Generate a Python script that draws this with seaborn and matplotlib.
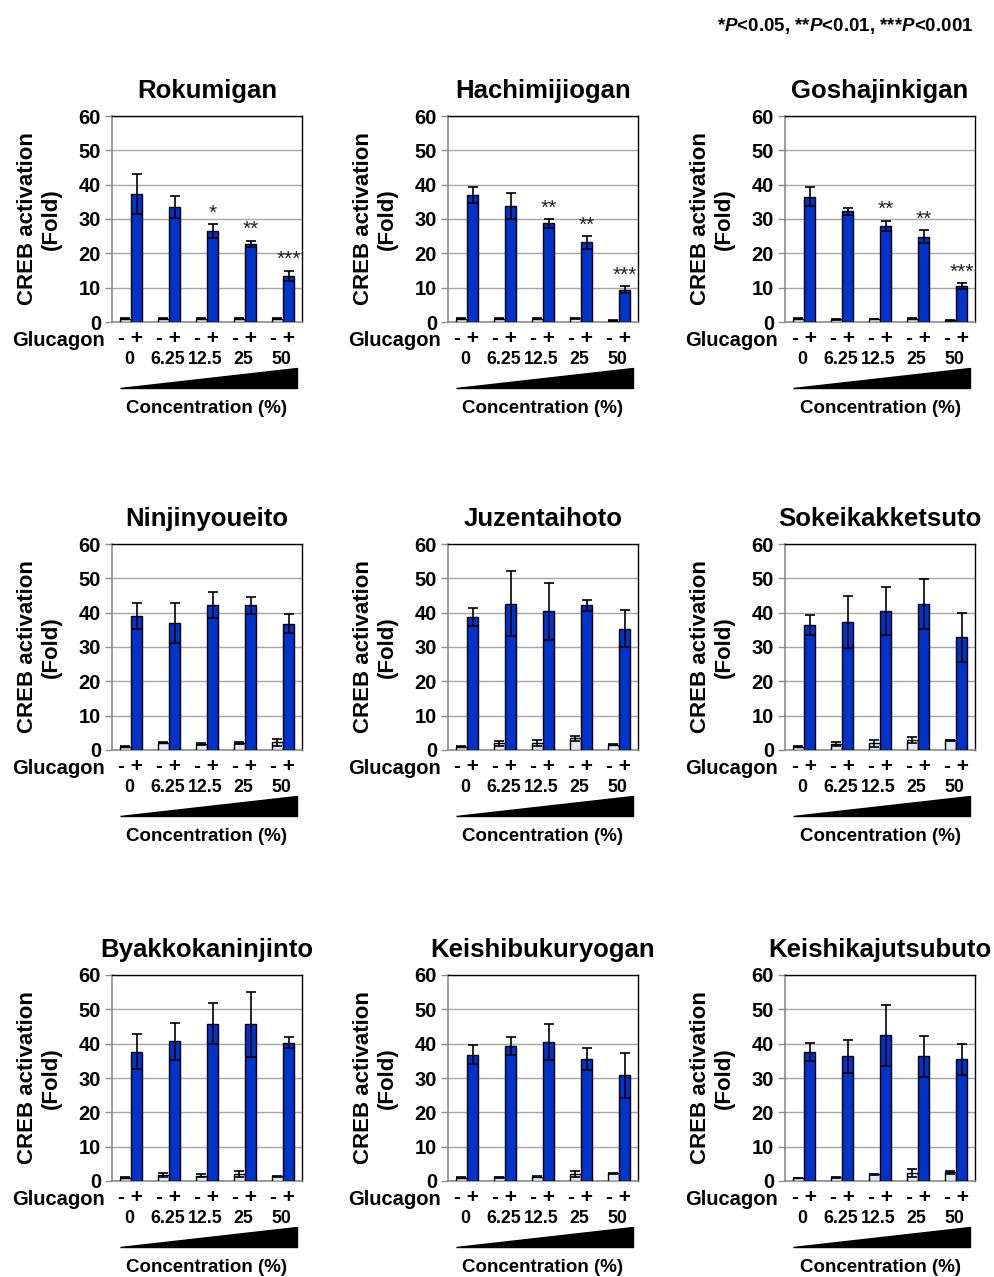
import numpy as np
import pandas as pd
import matplotlib
matplotlib.use("Agg")
import matplotlib.pyplot as plt
import matplotlib.transforms as mtransforms
import seaborn as sns

# ---------------- data ----------------
titles = ["Rokumigan", "Hachimijiogan", "Goshajinkigan",
          "Ninjinyoueito", "Juzentaihoto", "Sokeikakketsuto",
          "Byakkokaninjinto", "Keishibukuryogan", "Keishikajutsubuto"]
concentrations = ["0", "6.25", "12.5", "25", "50"]

minus_mean = [
    [1.0, 1.0, 1.0, 1.0, 1.0],
    [1.0, 1.0, 1.0, 1.1, 0.4],
    [1.0, 0.8, 0.9, 1.0, 0.5],
    [1.0, 2.1, 1.7, 2.0, 2.3],
    [1.0, 1.9, 2.1, 3.4, 1.6],
    [1.0, 1.7, 2.0, 2.9, 2.8],
    [1.0, 1.8, 1.6, 2.0, 1.4],
    [1.0, 1.1, 1.3, 2.1, 2.2],
    [0.9, 1.1, 1.9, 2.4, 2.5],
]
minus_err = [
    [0.1, 0.1, 0.1, 0.1, 0.1],
    [0.1, 0.1, 0.1, 0.1, 0.1],
    [0.1, 0.1, 0.1, 0.1, 0.1],
    [0.1, 0.2, 0.2, 0.2, 1.0],
    [0.1, 0.6, 0.9, 0.7, 0.2],
    [0.1, 0.6, 1.0, 0.8, 0.2],
    [0.1, 0.5, 0.4, 0.8, 0.1],
    [0.1, 0.1, 0.2, 0.8, 0.2],
    [0.1, 0.2, 0.2, 1.2, 0.5],
]
plus_mean = [
    [37.2, 33.5, 26.5, 22.7, 13.4],
    [36.9, 33.8, 28.7, 23.2, 9.4],
    [36.5, 32.3, 28.0, 24.9, 10.5],
    [39.0, 37.1, 42.2, 42.1, 36.8],
    [38.7, 42.6, 40.4, 42.2, 35.3],
    [36.4, 37.3, 40.4, 42.5, 32.8],
    [37.7, 40.7, 45.8, 45.6, 40.3],
    [36.8, 39.3, 40.4, 35.5, 30.8],
    [37.6, 36.3, 42.4, 36.3, 35.4],
]
plus_err = [
    [5.8, 3.3, 1.9, 1.0, 1.6],
    [2.3, 3.8, 1.2, 1.8, 1.0],
    [2.8, 1.0, 1.5, 1.8, 0.9],
    [3.7, 5.8, 3.8, 2.5, 2.8],
    [2.6, 9.4, 8.3, 1.6, 5.4],
    [3.0, 7.7, 7.0, 7.2, 7.2],
    [5.2, 5.4, 5.9, 9.5, 1.5],
    [2.7, 2.7, 5.2, 3.1, 6.5],
    [2.7, 4.7, 9.0, 6.0, 4.4],
]
stars = [
    ["", "", "*", "**", "***"],
    ["", "", "**", "**", "***"],
    ["", "", "**", "**", "***"],
    [""] * 5, [""] * 5, [""] * 5,
    [""] * 5, [""] * 5, [""] * 5,
]
glucagon_levels = ["-", "+"]
glucagon_row = "- +"
y_ticks = [0, 10, 20, 30, 40, 50, 60]
note_text = "*$P$<0.05, **$P$<0.01, ***$P$<0.001"

# ---------------- style ----------------
sns.set_theme(style="white")
plt.rcParams["font.family"] = ["Liberation Sans", "DejaVu Sans"]
plt.rcParams["font.weight"] = "bold"
for key in ["text.color", "axes.labelcolor", "xtick.color", "ytick.color",
            "axes.titlecolor"]:
    plt.rcParams[key] = "black"
plt.rcParams["mathtext.fontset"] = "custom"
plt.rcParams["mathtext.it"] = "Liberation Sans:bold:italic"
plt.rcParams["mathtext.rm"] = "Liberation Sans:bold"

W, H = 994, 1277
fig = plt.figure(figsize=(W / 100, H / 100), dpi=100)
fig.patch.set_facecolor("white")

lefts = [112, 448, 785]
tops = [116, 544, 975]
aw, ah = 190, 206

palette = {"-": "#E1E9F4", "+": "#0033CC"}

for k, title in enumerate(titles):
    r, c = divmod(k, 3)
    x0, y0 = lefts[c], tops[r]
    ax = fig.add_axes([x0 / W, 1 - (y0 + ah) / H, aw / W, ah / H])

    df = pd.DataFrame({
        "conc": concentrations * 2,
        "glucagon": ["-"] * 5 + ["+"] * 5,
        "value": minus_mean[k] + plus_mean[k],
    })
    sns.barplot(data=df, x="conc", y="value", hue="glucagon",
                order=concentrations, hue_order=glucagon_levels,
                palette=palette, saturation=1, width=0.6,
                edgecolor="black", linewidth=1.0, errorbar=None,
                legend=False, ax=ax, zorder=3)

    errs = {"-": minus_err[k], "+": plus_err[k]}
    for lvl, cont in zip(glucagon_levels, ax.containers):
        xs = [p.get_x() + p.get_width() / 2 for p in cont.patches]
        hs = [p.get_height() for p in cont.patches]
        ax.errorbar(xs, hs, yerr=errs[lvl], fmt="none", ecolor="black",
                    elinewidth=1.2, capsize=3.5, capthick=1.2, zorder=4)
        if lvl == "+":
            for xi, hi, ei, s in zip(xs, hs, errs[lvl], stars[k]):
                if s:
                    ax.annotate(s, (xi, hi + ei), xytext=(0, 1),
                                textcoords="offset points", ha="center",
                                va="bottom", fontsize=15,
                                fontweight="normal", color="#222222")

    ax.set_ylim(0, 60)
    ax.set_xlim(-0.5, 4.5)
    ax.set_yticks(y_ticks)
    ax.set_yticklabels([str(t) for t in y_ticks], fontsize=14.5,
                       fontweight="bold", va="center_baseline")
    ax.yaxis.grid(True, color="#A6A6A6", linewidth=1.0, zorder=0)
    ax.set_axisbelow(True)
    ax.tick_params(axis="y", length=5, width=1, color="#8C8C8C", pad=3,
                   left=True)
    ax.tick_params(axis="x", length=0, labelbottom=False)
    ax.set_xlabel("")
    ax.set_ylabel("CREB activation\n(Fold)", fontsize=16,
                  fontweight="bold", linespacing=1.15)
    ax.yaxis.set_label_coords(-0.265, 0.5)
    for side in ["top", "right"]:
        ax.spines[side].set_color("black")
        ax.spines[side].set_linewidth(1.0)
    for side in ["left", "bottom"]:
        ax.spines[side].set_color("#8C8C8C")
        ax.spines[side].set_linewidth(1.2)
    ax.set_title(title, fontsize=18.5, fontweight="bold", pad=13)

    trans = mtransforms.blended_transform_factory(ax.transData, ax.transAxes)
    # Glucagon - / + row
    ax.text(-0.035, -0.092, "Glucagon", transform=ax.transAxes,
            ha="right", va="center", fontsize=14.5, fontweight="bold")
    for i in range(len(concentrations)):
        ax.text(i, -0.08, glucagon_row, transform=trans, ha="center",
                va="center", fontsize=15, fontweight="bold")
    # concentration values
    for i, lab in enumerate(concentrations):
        ax.text(i - 0.04, -0.18, lab, transform=trans, ha="center",
                va="center", fontsize=12.8, fontweight="bold")
    # wedge
    ax.fill([-0.29, 4.37, 4.37], [-0.318, -0.318, -0.222], color="black",
            transform=trans, clip_on=False)
    ax.text(0.5, -0.418, "Concentration (%)", transform=ax.transAxes,
            ha="center", va="center", fontsize=13.5, fontweight="bold")

fig.text(973 / W, 1 - 26 / H, note_text, ha="right", va="center",
         fontsize=13.5, fontweight="bold")

fig.savefig("out.png", dpi=100, facecolor="white")
